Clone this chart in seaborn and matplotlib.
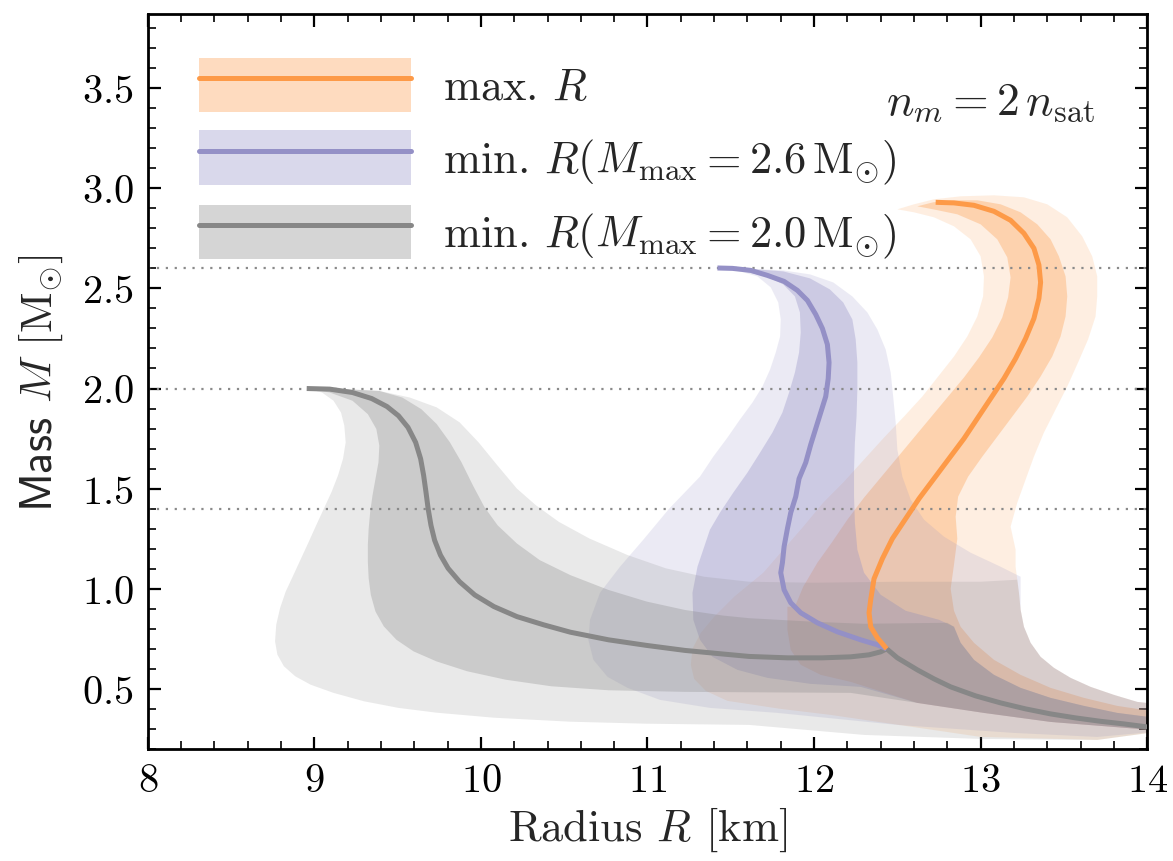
import matplotlib
matplotlib.use("Agg")
import matplotlib.pyplot as plt
import matplotlib.ticker as mticker
from matplotlib.lines import Line2D
from matplotlib.patches import Patch
import seaborn as sns

GRAY = "#878787"
PURPLE = "#9490c6"
ORANGE = "#fd9a48"

# ---------------------------------------------------------------------------
# Central M(R) curves
# ---------------------------------------------------------------------------
gray_R = [8.954, 9.092, 9.229, 9.344, 9.436, 9.505, 9.562, 9.608, 9.638, 9.656, 9.670,
          9.683, 9.700, 9.722, 9.757, 9.803, 9.872, 9.963, 10.078, 10.216, 10.376,
          10.537, 10.766, 10.995, 11.225, 11.454, 11.61, 11.84, 12.05, 12.22, 12.33,
          12.40, 12.436, 12.50, 12.62, 12.72, 12.82, 12.97, 13.12, 13.27, 13.42,
          13.57, 13.72, 13.86, 14.0]
gray_M = [2.000, 1.997, 1.980, 1.950, 1.910, 1.864, 1.806, 1.731, 1.649, 1.566, 1.483,
          1.400, 1.317, 1.242, 1.168, 1.102, 1.035, 0.969, 0.911, 0.861, 0.820,
          0.783, 0.745, 0.717, 0.692, 0.674, 0.662, 0.655, 0.655, 0.66, 0.67,
          0.685, 0.70, 0.655, 0.595, 0.55, 0.51, 0.465, 0.43, 0.40, 0.375,
          0.355, 0.338, 0.325, 0.31]

purple_R = [11.42, 11.51, 11.62, 11.72, 11.82, 11.90, 11.96, 12.01, 12.05, 12.08,
            12.09, 12.085, 12.07, 12.04, 12.01, 11.98, 11.95, 11.91, 11.89, 11.86,
            11.84, 11.82, 11.81, 11.80, 11.82, 11.86, 11.92, 12.02, 12.14, 12.28,
            12.38, 12.436]
purple_M = [2.602, 2.60, 2.59, 2.565, 2.535, 2.49, 2.44, 2.37, 2.30, 2.22,
            2.13, 2.05, 1.96, 1.88, 1.80, 1.72, 1.63, 1.55, 1.46, 1.38,
            1.30, 1.21, 1.13, 1.08, 0.995, 0.93, 0.88, 0.83, 0.785, 0.745,
            0.72, 0.70]

orange_R = [12.73, 12.84, 12.96, 13.08, 13.18, 13.26, 13.32, 13.35, 13.36, 13.35,
            13.32, 13.27, 13.21, 13.14, 13.06, 12.98, 12.90, 12.81, 12.72, 12.63,
            12.55, 12.47, 12.41, 12.36, 12.34, 12.33, 12.34, 12.38, 12.436]
orange_M = [2.93, 2.927, 2.915, 2.885, 2.84, 2.775, 2.70, 2.617, 2.53, 2.45,
            2.35, 2.25, 2.15, 2.05, 1.95, 1.85, 1.75, 1.65, 1.55, 1.45,
            1.35, 1.25, 1.15, 1.05, 0.945, 0.88, 0.81, 0.755, 0.70]

# ---------------------------------------------------------------------------
# Band outlines (outer = light, inner = dark), traced around each region
# ---------------------------------------------------------------------------
gray_outer_R = [8.954, 9.16, 9.39, 9.573, 9.734, 9.872, 9.986, 10.10, 10.216, 10.33,
                10.468, 10.651, 10.881, 11.11, 11.34, 11.61, 12.0, 12.5, 13.0, 13.22,
                13.23, 13.24, 13.26, 13.30, 13.36, 13.44, 13.54, 13.66, 13.80, 13.94,
                14.1, 14.1, 13.7, 13.0, 12.3, 11.61, 10.995, 10.537, 10.078, 9.734,
                9.505, 9.298, 9.115, 8.977, 8.885, 8.817, 8.778, 8.764, 8.771, 8.794,
                8.828, 8.874, 8.92, 8.966, 9.011, 9.057, 9.103, 9.142, 9.172, 9.188,
                9.18, 9.16, 9.115, 9.046]
gray_outer_M = [2.000, 1.997, 1.988, 1.955, 1.906, 1.831, 1.731, 1.615, 1.50, 1.417,
                1.334, 1.251, 1.168, 1.102, 1.06, 1.035, 1.03, 1.035, 1.035, 1.045,
                0.98, 0.895, 0.81, 0.73, 0.66, 0.605, 0.555, 0.51, 0.47, 0.435,
                0.42, 0.29, 0.245, 0.25, 0.27, 0.32, 0.326, 0.336, 0.356, 0.381,
                0.405, 0.438, 0.48, 0.521, 0.563, 0.613, 0.671, 0.737, 0.82, 0.903,
                0.986, 1.068, 1.151, 1.234, 1.317, 1.40, 1.483, 1.566, 1.649, 1.731,
                1.814, 1.88, 1.939, 1.98]

gray_inner_R = [8.954, 9.16, 9.39, 9.528, 9.642, 9.734, 9.814, 9.883, 9.952, 10.021,
                10.10, 10.216, 10.353, 10.537, 10.766, 10.995, 11.225, 11.454, 11.61,
                12.0, 12.3, 12.8, 12.84, 12.88, 12.96, 13.08, 13.24, 13.42, 13.62,
                13.82, 14.1, 14.1, 13.42, 13.02, 12.62, 12.22, 11.61, 11.225, 10.766,
                10.422, 10.147, 9.917, 9.734, 9.596, 9.493, 9.417, 9.367, 9.339, 9.326,
                9.321, 9.321, 9.326, 9.335, 9.349, 9.367, 9.385, 9.39, 9.372, 9.321,
                9.229, 9.092]
gray_inner_M = [2.000, 1.998, 1.988, 1.955, 1.897, 1.823, 1.731, 1.632, 1.516, 1.408,
                1.317, 1.226, 1.143, 1.068, 0.994, 0.936, 0.894, 0.866, 0.853,
                0.835, 0.825, 0.83, 0.81, 0.73, 0.645, 0.57, 0.505, 0.455, 0.415,
                0.38, 0.35, 0.29, 0.335, 0.38, 0.43, 0.48, 0.483, 0.485, 0.493,
                0.513, 0.546, 0.588, 0.637, 0.687, 0.745, 0.812, 0.886, 0.969, 1.052,
                1.135, 1.218, 1.30, 1.383, 1.466, 1.549, 1.632, 1.715, 1.798, 1.872,
                1.939, 1.98]

purple_outer_R = [11.42, 11.555, 11.815, 11.976, 12.115, 12.23, 12.32, 12.38, 12.43,
                  12.46, 12.475, 12.49, 12.50, 12.53, 12.58, 12.66, 12.78, 12.94,
                  13.12, 13.24, 13.24, 13.26, 13.30, 13.36, 13.44, 13.54, 13.66,
                  13.80, 13.94, 14.1, 14.1, 13.7, 13.2, 12.5, 11.78, 11.375, 11.075,
                  10.88, 10.76, 10.675, 10.645, 10.655, 10.715, 10.835, 10.975,
                  11.13, 11.315, 11.395, 11.48, 11.555, 11.63, 11.69, 11.736, 11.77,
                  11.796, 11.80, 11.785, 11.74, 11.66, 11.555]
purple_outer_M = [2.602, 2.60, 2.59, 2.57, 2.53, 2.46, 2.38, 2.295, 2.195,
                  2.08, 1.96, 1.83, 1.695, 1.56, 1.445, 1.345, 1.26, 1.18,
                  1.11, 1.06, 0.895, 0.81, 0.73, 0.66, 0.605, 0.555, 0.51,
                  0.47, 0.435, 0.42, 0.29, 0.26, 0.28, 0.32, 0.38, 0.405, 0.445,
                  0.505, 0.56, 0.645, 0.745, 0.845, 0.98, 1.11, 1.245,
                  1.40, 1.56, 1.66, 1.755, 1.845, 1.93, 2.01, 2.095, 2.18,
                  2.26, 2.345, 2.43, 2.505, 2.56, 2.585]

purple_inner_R = [11.42, 11.575, 11.815, 11.976, 12.095, 12.175, 12.23, 12.25, 12.26,
                  12.26, 12.255, 12.245, 12.24, 12.24, 12.245, 12.26, 12.30, 12.40,
                  12.55, 12.75, 12.84, 12.88, 12.96, 13.08, 13.24, 13.42, 13.62,
                  13.82, 14.1, 14.1, 13.42, 13.02, 12.62, 12.28, 11.98, 11.72, 11.54,
                  11.39, 11.315, 11.275, 11.27, 11.30, 11.375, 11.435, 11.515, 11.60,
                  11.676, 11.75, 11.81, 11.85, 11.885, 11.91, 11.92, 11.915, 11.885,
                  11.815, 11.715, 11.575]
purple_inner_M = [2.602, 2.60, 2.585, 2.55, 2.495, 2.43, 2.345, 2.245, 2.13,
                  1.995, 1.86, 1.73, 1.595, 1.46, 1.33, 1.195, 1.08, 0.97,
                  0.89, 0.845, 0.81, 0.73, 0.645, 0.57, 0.505, 0.455, 0.415,
                  0.38, 0.35, 0.29, 0.335, 0.38, 0.43, 0.51, 0.525, 0.555, 0.595,
                  0.66, 0.745, 0.845, 0.98, 1.11, 1.295, 1.38, 1.48, 1.58,
                  1.68, 1.78, 1.88, 1.98, 2.08, 2.18, 2.28, 2.38, 2.46,
                  2.52, 2.56, 2.585]

orange_outer_R = [12.50, 12.60, 12.72, 12.88, 13.08, 13.26, 13.40, 13.52, 13.61, 13.67,
                  13.70, 13.70, 13.69, 13.645, 13.585, 13.52, 13.45, 13.38, 13.32,
                  13.27, 13.22, 13.18, 13.21, 13.21, 13.22, 13.23, 13.24, 13.26, 13.30,
                  13.36, 13.44, 13.54, 13.66, 13.80, 13.94, 14.1, 14.1, 13.7, 13.0,
                  12.1, 11.8, 11.48, 11.35, 11.28, 11.26, 11.27, 11.32, 11.40, 11.52,
                  11.695, 11.815, 11.935, 12.055, 12.18, 12.30, 12.42, 12.54, 12.65,
                  12.745, 12.84, 12.92, 12.98, 13.015, 13.02, 13.00, 12.94, 12.84,
                  12.72, 12.60]
orange_outer_M = [2.895, 2.92, 2.945, 2.96, 2.965, 2.955, 2.92, 2.855, 2.76, 2.66,
                  2.56, 2.46, 2.36, 2.245, 2.13, 2.01, 1.895, 1.78, 1.66,
                  1.545, 1.43, 1.31, 1.195, 1.11, 1.045, 0.98, 0.895, 0.81, 0.73,
                  0.66, 0.605, 0.555, 0.51, 0.47, 0.435, 0.42, 0.29, 0.245, 0.26,
                  0.37, 0.40, 0.44, 0.49, 0.55, 0.62, 0.70, 0.78, 0.86, 0.96,
                  1.08, 1.195, 1.31, 1.43, 1.535, 1.645, 1.755, 1.86, 1.96,
                  2.06, 2.16, 2.26, 2.36, 2.46, 2.56, 2.66, 2.745, 2.81,
                  2.855, 2.88]

orange_inner_R = [12.62, 12.715, 12.835, 12.98, 13.12, 13.24, 13.34, 13.42, 13.47,
                  13.51, 13.52, 13.51, 13.48, 13.43, 13.36, 13.28, 13.19, 13.10,
                  13.01, 12.925, 12.865, 12.85, 12.86, 12.84, 12.82, 12.84, 12.88,
                  12.96, 13.08, 13.24, 13.42, 13.62, 13.82, 14.1, 14.1, 13.42, 13.02,
                  12.62, 12.22, 12.04, 11.92, 11.86, 11.84, 11.84, 11.885, 11.935,
                  12.02, 12.11, 12.20, 12.30, 12.40, 12.50, 12.60, 12.70, 12.80,
                  12.90, 12.99, 13.07, 13.13, 13.165, 13.18, 13.16, 13.10, 13.00,
                  12.86, 12.715]
orange_inner_M = [2.91, 2.93, 2.94, 2.94, 2.92, 2.88, 2.82, 2.745, 2.66,
                  2.56, 2.46, 2.36, 2.26, 2.16, 2.06, 1.96, 1.86, 1.76,
                  1.66, 1.56, 1.46, 1.36, 1.25, 1.12, 1.0, 0.89, 0.81,
                  0.73, 0.645, 0.57, 0.505, 0.455, 0.415, 0.38, 0.29, 0.335, 0.38,
                  0.43, 0.535, 0.57, 0.62, 0.695, 0.795, 0.91, 0.91, 1.01,
                  1.13, 1.235, 1.345, 1.455, 1.555, 1.655, 1.755, 1.855, 1.955,
                  2.055, 2.155, 2.255, 2.355, 2.455, 2.555, 2.655, 2.745, 2.82,
                  2.87, 2.895]

ref_masses = [1.4, 2.0, 2.6]

legend_labels = [
    r"max. $R$",
    r"min. $R(M_{\max} = 2.6\,\mathrm{M}_{\odot})$",
    r"min. $R(M_{\max} = 2.0\,\mathrm{M}_{\odot})$",
]

sns.set_theme(style="ticks")
plt.rcParams.update({
    "font.family": "serif",
    "font.serif": ["cmr10", "DejaVu Serif"],
    "mathtext.fontset": "cm",
    "axes.formatter.use_mathtext": True,
    "font.size": 30,
    "axes.linewidth": 2.0,
    "xtick.direction": "in",
    "ytick.direction": "in",
    "xtick.major.size": 9,
    "ytick.major.size": 9,
    "xtick.minor.size": 5.5,
    "ytick.minor.size": 5.5,
    "xtick.major.width": 1.6,
    "ytick.major.width": 1.6,
    "xtick.minor.width": 1.2,
    "ytick.minor.width": 1.2,
    "xtick.color": "black",
    "ytick.color": "black",
    "axes.edgecolor": "black",
})

fig = plt.figure(figsize=(11.73, 8.62), dpi=100)
ax = fig.add_axes([0.126, 0.130, 0.852, 0.8525])

# orange first, gray last: that is how the overlaps mix in the original
bands = [
    (orange_outer_R, orange_outer_M, ORANGE, 0.16),
    (orange_inner_R, orange_inner_M, ORANGE, 0.33),
    (purple_outer_R, purple_outer_M, PURPLE, 0.18),
    (purple_inner_R, purple_inner_M, PURPLE, 0.35),
    (gray_outer_R, gray_outer_M, GRAY, 0.18),
    (gray_inner_R, gray_inner_M, GRAY, 0.30),
]
for R, M, color, alpha in bands:
    ax.fill(R, M, color=color, alpha=alpha, lw=0, zorder=1)

for m in ref_masses:
    ax.axhline(m, color="#8a8a8a", lw=1.6, ls=(0, (1, 3)), zorder=2)

for R, M, color in [(gray_R, gray_M, GRAY), (purple_R, purple_M, PURPLE),
                    (orange_R, orange_M, ORANGE)]:
    sns.lineplot(x=R, y=M, sort=False, estimator=None, color=color, lw=3.6,
                 solid_capstyle="butt", ax=ax, zorder=3)

ax.set_xlim(8, 14)
ax.set_ylim(0.2, 3.87)
ax.xaxis.set_major_locator(mticker.MultipleLocator(1))
ax.xaxis.set_minor_locator(mticker.MultipleLocator(0.2))
ax.yaxis.set_major_locator(mticker.MultipleLocator(0.5))
ax.yaxis.set_minor_locator(mticker.MultipleLocator(0.1))
ax.tick_params(which="both", top=True, right=True, labelsize=29, pad=10)

ax.set_xlabel(r"Radius $R$ [km]", fontsize=32, labelpad=4)
ax.set_ylabel(r"$\mathsf{Mass}$ $M$ [M$_{\odot}$]", fontsize=32, labelpad=12)

ax.text(0.948, 0.88, r"$n_m = 2\,n_{\rm sat}$", transform=ax.transAxes,
        ha="right", va="center", fontsize=33)

handles = []
for color in [ORANGE, PURPLE, GRAY]:
    handles.append((Patch(facecolor=color, alpha=0.35, lw=0),
                    Line2D([], [], color=color, lw=3.6)))
ax.legend(handles, legend_labels, loc="upper left", bbox_to_anchor=(0.033, 0.965),
          borderaxespad=0, frameon=False, fontsize=32, handlelength=4.77,
          handleheight=1.5, labelspacing=0.42, handletextpad=0.72)

fig.savefig("out.png", dpi=100)
